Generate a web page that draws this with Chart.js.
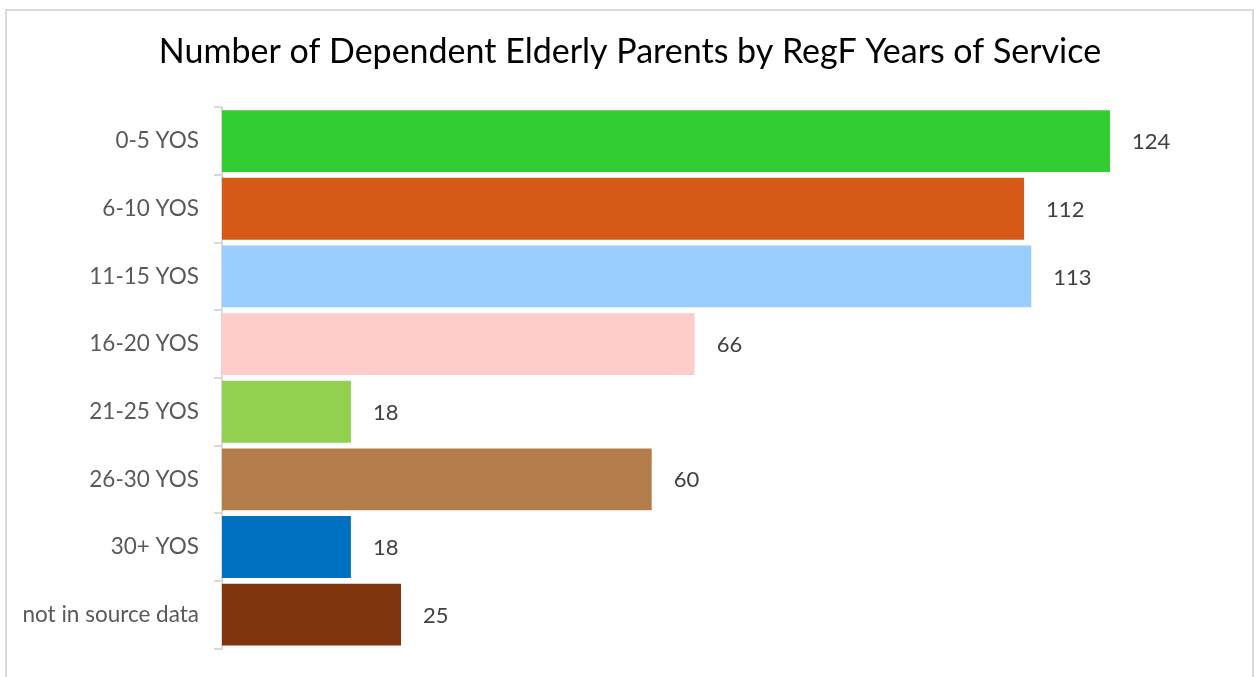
<!DOCTYPE html>
<html>
<head>
<meta charset="utf-8">
<title>Number of Dependent Elderly Parents by RegF Years of Service</title>
<script src="https://cdn.jsdelivr.net/npm/chart.js@4/dist/chart.umd.min.js"></script>
<style>
  html, body { margin: 0; padding: 0; background: #ffffff; }
  #wrap { position: relative; width: 1254px; height: 677px; }
</style>
</head>
<body>
<div id="wrap"><canvas id="chart" width="1254" height="677"></canvas></div>
<script>
// Years-of-service groups and the number of dependent elderly parents in each
const categories = ['0-5 YOS', '6-10 YOS', '11-15 YOS', '16-20 YOS', '21-25 YOS', '26-30 YOS', '30+ YOS', 'not in source data'];
const parentCounts = [124, 112, 113, 66, 18, 60, 18, 25];
const barColors = ['#33CC33', '#D55A17', '#99CCFF', '#FFCCCC', '#92D050', '#B27D4A', '#0070C0', '#7F350E'];
const chartTitle = 'Number of Dependent Elderly Parents by RegF Years of Service';

const FONT = 'Lato, "Open Sans", sans-serif';

// Light frame around the whole chart
const framePlugin = {
  id: 'frame',
  beforeDraw(chart) {
    const ctx = chart.ctx;
    ctx.save();
    ctx.fillStyle = '#ffffff';
    ctx.fillRect(0, 0, chart.width, chart.height);
    ctx.strokeStyle = '#d9d9d9';
    ctx.lineWidth = 2;
    ctx.strokeRect(6, 10, 1247, 720);
    ctx.restore();
  }
};

// Value printed to the right of each bar
const valueLabelPlugin = {
  id: 'valueLabels',
  afterDatasetsDraw(chart) {
    const ctx = chart.ctx;
    const meta = chart.getDatasetMeta(0);
    ctx.save();
    ctx.font = '22px ' + FONT;
    ctx.fillStyle = '#404040';
    ctx.textAlign = 'left';
    ctx.textBaseline = 'middle';
    meta.data.forEach((bar, i) => {
      ctx.fillText(String(parentCounts[i]), bar.x + 22, bar.y + 1);
    });
    ctx.restore();
  }
};

new Chart(document.getElementById('chart'), {
  type: 'bar',
  data: {
    labels: categories,
    datasets: [{
      data: parentCounts,
      backgroundColor: barColors,
      borderWidth: 0,
      barPercentage: 0.915,
      categoryPercentage: 1.0
    }]
  },
  options: {
    indexAxis: 'y',
    responsive: false,
    animation: false,
    layout: { padding: { top: 0, right: 0, bottom: 26, left: 6 } },
    plugins: {
      legend: { display: false },
      tooltip: { enabled: false },
      title: {
        display: true,
        text: chartTitle,
        color: '#000000',
        font: { family: FONT, size: 34, weight: 'normal' },
        padding: { top: 32, bottom: 34.5 }
      }
    },
    scales: {
      x: {
        display: false,
        min: 0,
        max: 144.1
      },
      y: {
        afterFit(scale) { scale.width = 216; },
        grid: {
          drawOnChartArea: false,
          drawTicks: true,
          tickLength: 8,
          color: '#d9d9d9',
          lineWidth: 2
        },
        border: { display: true, color: '#d9d9d9', width: 2 },
        ticks: {
          color: '#595959',
          padding: 15,
          font: { family: FONT, size: 22.5 }
        }
      }
    }
  },
  plugins: [framePlugin, valueLabelPlugin]
});
</script>
</body>
</html>
